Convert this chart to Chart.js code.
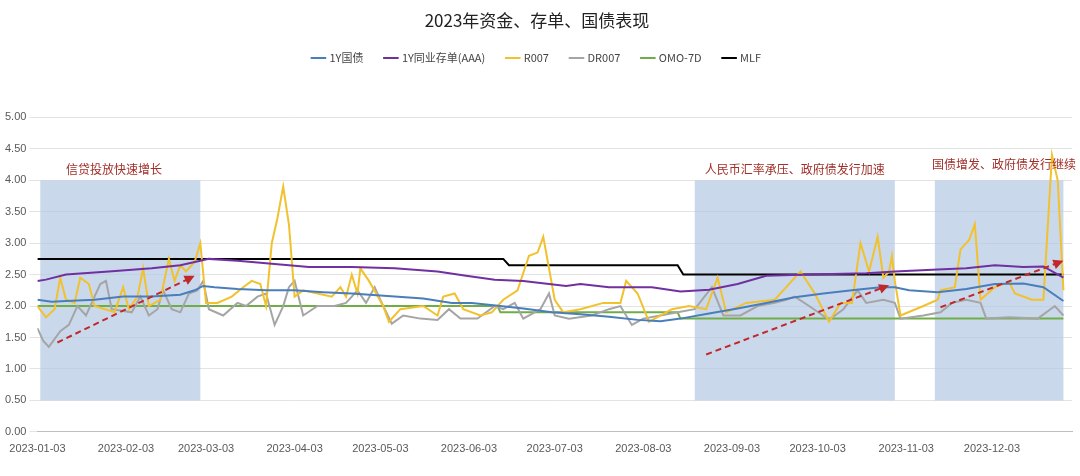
<!DOCTYPE html>
<html>
<head>
<meta charset="utf-8">
<script src="https://cdn.jsdelivr.net/npm/chart.js@4/dist/chart.umd.min.js"></script>
<style>
  body { margin: 0; background: #fff; }
  #wrap { width: 1080px; height: 476px; }
</style>
</head>
<body>
<div id="wrap"><canvas id="c"></canvas></div>
<script>
// days counted from 2023-01-03
var tickDays = [0, 31, 59, 90, 120, 151, 181, 212, 243, 273, 304, 334];
var tickLabels = ['2023-01-03', '2023-02-03', '2023-03-03', '2023-04-03', '2023-05-03', '2023-06-03',
                  '2023-07-03', '2023-08-03', '2023-09-03', '2023-10-03', '2023-11-03', '2023-12-03'];

var gzDays = [0, 5, 10, 20, 30, 40, 50, 55, 58, 62, 70, 80, 90, 100, 110, 125, 135, 145, 152, 162, 170, 180, 190, 200, 210, 218, 225, 235, 245, 255, 265, 275, 285, 295, 300, 305, 315, 325, 335, 345, 352, 359];
var gzVals = [2.1, 2.07, 2.08, 2.1, 2.15, 2.15, 2.18, 2.25, 2.32, 2.3, 2.27, 2.25, 2.25, 2.22, 2.2, 2.15, 2.12, 2.05, 2.05, 2.0, 1.96, 1.9, 1.87, 1.83, 1.78, 1.76, 1.8, 1.88, 1.96, 2.05, 2.14, 2.2, 2.25, 2.3, 2.3, 2.25, 2.22, 2.27, 2.35, 2.36, 2.3, 2.08];

var cdDays = [0, 3, 10, 25, 40, 50, 57, 60, 70, 80, 95, 110, 125, 140, 150, 160, 170, 185, 190, 200, 215, 225, 235, 245, 255, 270, 290, 300, 315, 325, 335, 345, 352, 359];
var cdVals = [2.4, 2.42, 2.5, 2.55, 2.6, 2.65, 2.72, 2.75, 2.72, 2.68, 2.62, 2.62, 2.6, 2.55, 2.48, 2.42, 2.4, 2.32, 2.35, 2.3, 2.3, 2.23, 2.26, 2.35, 2.48, 2.5, 2.52, 2.55, 2.58, 2.6, 2.65, 2.62, 2.63, 2.45];

var r7Days = [0, 3, 6, 8, 10, 13, 15, 18, 20, 27, 30, 32, 35, 37, 39, 43, 46, 48, 50, 52, 55, 57, 59, 63, 68, 72, 75, 78, 80, 82, 84, 86, 88, 90, 93, 98, 103, 106, 108, 110, 112, 113, 116, 121, 123, 127, 135, 140, 142, 146, 149, 155, 159, 163, 168, 172, 175, 177, 181, 184, 190, 198, 204, 206, 210, 214, 222, 228, 234, 238, 241, 248, 258, 262, 267, 272, 277, 281, 285, 288, 291, 294, 296, 298, 299, 300, 302, 310, 315, 316, 321, 323, 326, 328, 330, 335, 340, 342, 348, 352, 355, 357, 359];
var r7Vals = [2.0, 1.82, 1.95, 2.45, 2.1, 2.05, 2.45, 2.35, 2.0, 1.9, 2.3, 1.95, 2.15, 2.6, 2.0, 2.1, 2.75, 2.4, 2.65, 2.55, 2.7, 3.0, 2.05, 2.05, 2.15, 2.3, 2.4, 2.35, 2.0, 3.0, 3.4, 3.9, 3.3, 2.15, 2.25, 2.2, 2.15, 2.3, 2.15, 2.5, 2.2, 2.6, 2.4, 2.0, 1.75, 1.95, 2.0, 1.85, 2.15, 2.2, 1.95, 1.85, 1.9, 2.1, 2.25, 2.8, 2.85, 3.1, 2.1, 1.9, 1.95, 2.05, 2.05, 2.4, 2.2, 1.75, 1.95, 2.0, 1.95, 2.45, 1.9, 2.05, 2.1, 2.3, 2.55, 2.2, 1.75, 2.05, 2.05, 3.0, 2.55, 3.1, 2.45, 2.55, 2.8, 2.4, 1.85, 2.0, 2.1, 2.25, 2.3, 2.9, 3.05, 3.3, 2.1, 2.3, 2.38, 2.2, 2.1, 2.1, 4.4, 4.0, 2.25];

var dr7Days = [0, 2, 4, 8, 11, 14, 17, 20, 22, 24, 26, 33, 36, 39, 42, 44, 47, 50, 53, 56, 58, 60, 65, 70, 73, 77, 80, 83, 86, 88, 90, 93, 98, 104, 108, 112, 115, 118, 121, 124, 128, 134, 140, 144, 148, 154, 160, 163, 167, 170, 176, 179, 181, 186, 194, 200, 204, 208, 212, 218, 224, 230, 236, 240, 246, 252, 258, 262, 265, 270, 277, 282, 287, 290, 296, 300, 302, 310, 316, 320, 325, 330, 332, 340, 350, 356, 359];
var dr7Vals = [1.65, 1.45, 1.35, 1.6, 1.7, 2.0, 1.85, 2.15, 2.35, 2.4, 1.95, 1.9, 2.15, 1.85, 1.95, 2.25, 1.95, 1.9, 2.2, 2.25, 2.4, 1.95, 1.85, 2.05, 2.0, 2.15, 2.2, 1.7, 2.0, 2.3, 2.4, 1.85, 2.0, 2.0, 2.05, 2.25, 2.05, 2.3, 2.0, 1.72, 1.85, 1.8, 1.78, 1.95, 1.8, 1.8, 2.0, 1.95, 2.05, 1.8, 1.95, 2.2, 1.85, 1.8, 1.85, 1.95, 2.0, 1.7, 1.8, 1.85, 1.9, 1.95, 2.3, 1.85, 1.85, 2.0, 2.05, 2.1, 2.15, 2.0, 1.78, 1.95, 2.25, 2.05, 2.1, 2.05, 1.8, 1.85, 1.9, 2.05, 2.1, 2.05, 1.8, 1.82, 1.8, 2.0, 1.85];

var omoDays = [0, 161, 162, 224, 225, 359];
var omoVals = [2.0, 2.0, 1.9, 1.9, 1.8, 1.8];
var mlfDays = [0, 163, 165, 224, 226, 359];
var mlfVals = [2.75, 2.75, 2.65, 2.65, 2.5, 2.5];

// shaded periods [startDay, endDay, low, high] and the trend arrows [x0, y0, x1, y1]
var periods = [[1, 57, 0.5, 4.0], [230, 300, 0.5, 4.0], [314, 359, 0.5, 4.0]];
var arrows = [[7, 1.42, 55, 2.48], [234, 1.23, 298, 2.33], [316, 1.98, 359, 2.72]];
var notes = [['信贷投放快速增长', 10, 4.17, 'left'], ['人民币汇率承压、政府债发行加速', 265, 4.17, 'center'], ['国债增发、政府债发行继续', 313, 4.25, 'left']];

function pts(days, vals) {
    return days.map(function (d, i) { return { x: d, y: vals[i] }; });
}

function line(label, days, vals, color) {
    return { label: label, data: pts(days, vals), borderColor: color, backgroundColor: color,
             borderWidth: 2, pointRadius: 0, tension: 0 };
}

var legendGap = {
    id: 'legendGap',
    beforeInit: function (chart) {
        var fit = chart.legend.fit;
        chart.legend.fit = function () {
            fit.bind(this)();
            this.height += 44;
        };
    }
};

var extras = {
    id: 'extras',
    beforeDatasetsDraw: function (chart) {
        var ctx = chart.ctx, x = chart.scales.x, y = chart.scales.y;
        ctx.save();
        ctx.fillStyle = 'rgba(180,199,228,0.7)';
        periods.forEach(function (p) {
            var l = x.getPixelForValue(p[0]), r = x.getPixelForValue(p[1]);
            var t = y.getPixelForValue(p[3]), b = y.getPixelForValue(p[2]);
            ctx.fillRect(l, t, r - l, b - t);
        });
        ctx.restore();
    },
    afterDatasetsDraw: function (chart) {
        var ctx = chart.ctx, x = chart.scales.x, y = chart.scales.y;
        ctx.save();
        ctx.strokeStyle = '#c0282a';
        ctx.fillStyle = '#c0282a';
        ctx.lineWidth = 2;
        arrows.forEach(function (a) {
            var x0 = x.getPixelForValue(a[0]), y0 = y.getPixelForValue(a[1]);
            var x1 = x.getPixelForValue(a[2]), y1 = y.getPixelForValue(a[3]);
            var ang = Math.atan2(y1 - y0, x1 - x0);
            ctx.setLineDash([6, 4]);
            ctx.beginPath();
            ctx.moveTo(x0, y0);
            ctx.lineTo(x1 - 8 * Math.cos(ang), y1 - 8 * Math.sin(ang));
            ctx.stroke();
            ctx.setLineDash([]);
            ctx.beginPath();
            ctx.moveTo(x1, y1);
            ctx.lineTo(x1 - 10 * Math.cos(ang) + 5 * Math.sin(ang), y1 - 10 * Math.sin(ang) - 5 * Math.cos(ang));
            ctx.lineTo(x1 - 10 * Math.cos(ang) - 5 * Math.sin(ang), y1 - 10 * Math.sin(ang) + 5 * Math.cos(ang));
            ctx.closePath();
            ctx.fill();
        });
        ctx.font = '12px "Noto Sans CJK SC"';
        ctx.fillStyle = '#a0302a';
        ctx.textBaseline = 'middle';
        notes.forEach(function (n) {
            ctx.textAlign = n[3];
            ctx.fillText(n[0], x.getPixelForValue(n[1]), y.getPixelForValue(n[2]));
        });
        ctx.restore();
    }
};

new Chart(document.getElementById('c').getContext('2d'), {
    type: 'line',
    data: {
        datasets: [
            line('1Y国债', gzDays, gzVals, '#4a7ebb'),
            line('1Y同业存单(AAA)', cdDays, cdVals, '#7030a0'),
            line('R007', r7Days, r7Vals, '#f2c12e'),
            line('DR007', dr7Days, dr7Vals, '#a5a5a5'),
            line('OMO-7D', omoDays, omoVals, '#70ad47'),
            line('MLF', mlfDays, mlfVals, '#000000')
        ]
    },
    options: {
        responsive: true,
        maintainAspectRatio: false,
        animation: false,
        layout: { padding: { left: 2, right: 8, top: 6, bottom: 17 } },
        plugins: {
            title: { display: true, text: '2023年资金、存单、国债表现', color: '#222',
                     font: { size: 17, weight: 'normal', family: '"Noto Sans CJK SC"' }, padding: { top: 4, bottom: 0 } },
            legend: {
                labels: { usePointStyle: true, pointStyle: 'line', boxWidth: 26, color: '#444',
                          font: { size: 11, family: '"Noto Sans CJK SC"' }, padding: 22 }
            },
            tooltip: { enabled: false }
        },
        scales: {
            x: {
                type: 'linear', min: 0, max: 362,
                afterBuildTicks: function (axis) {
                    axis.ticks = tickDays.map(function (d) { return { value: d }; });
                },
                ticks: {
                    autoSkip: false, maxRotation: 0, color: '#595959', font: { size: 11 },
                    callback: function (v) { return tickLabels[tickDays.indexOf(v)]; }
                },
                grid: { display: false, drawTicks: true },
                border: { color: '#bfbfbf' }
            },
            y: {
                min: 0, max: 5,
                ticks: { stepSize: 0.5, color: '#595959', font: { size: 11 },
                         callback: function (v) { return v.toFixed(2); } },
                grid: { color: '#e3e3e3' },
                border: { display: false }
            }
        }
    },
    plugins: [extras, legendGap]
});
</script>
</body>
</html>
